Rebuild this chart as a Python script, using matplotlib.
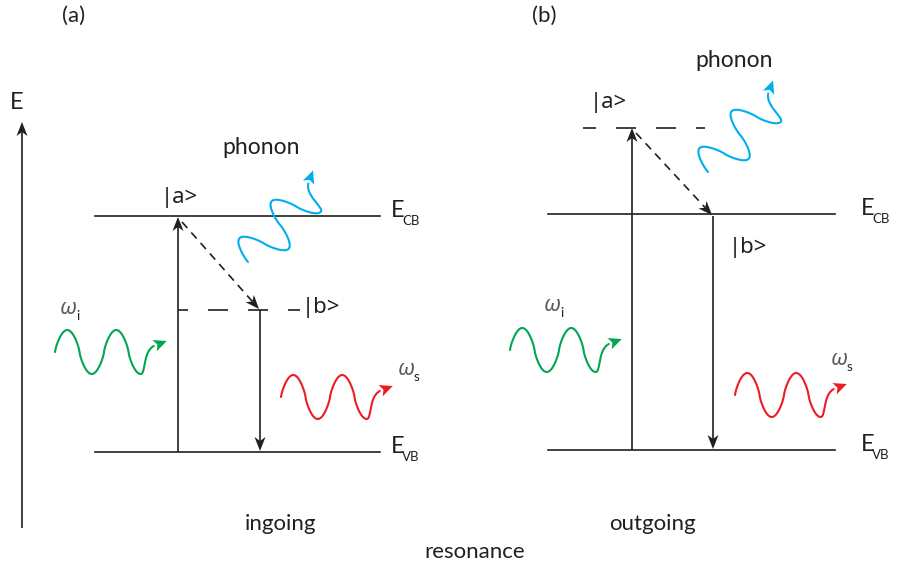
import numpy as np
import matplotlib.pyplot as plt

plt.rcParams['font.family'] = ['Lato', 'DejaVu Sans']
plt.rcParams['lines.scale_dashes'] = False

INK = '#231f20'
GREY = '#58595b'
GREEN = '#00a651'
RED = '#ed1c24'
BLUE = '#00aeef'

# two resonance cases: (a) ingoing, (b) outgoing
panel_names = ['(a)', '(b)']
panel_titles = ['ingoing', 'outgoing']
panel_name_x = [62, 532]
panel_title_x = [281, 652]

# band edges
band_x0 = [95, 548]
band_x1 = [380, 835]
cb_y = [216, 214]
vb_y = [452, 450]
band_label_x = [391, 861]

# dashed intermediate level
virt_y = [310, 128]
virt_x0 = [178, 583]
virt_x1 = [300, 705]
virt_offset = [7.2, 5.0]

# absorption (up) and emission (down) arrows
up_x = [178, 632]
up_top = [217, 128]
down_x = [260, 713]
down_top = [310, 216]
down_bottom = [451, 449]

# state labels: x, baseline
state_a_xy = [(161, 203), (590, 108)]
state_b_xy = [(302, 313), (729, 253)]

# photons and phonons, origin of each wavy arrow
incident_xy = [(55, 352), (510, 350)]
scattered_xy = [(281, 397), (735, 395)]
phonon_xy = [(248, 262), (708, 172)]
phonon_angle = 49
omega_i_xy = [(60, 314), (544, 311)]
omega_s_xy = [(398, 375), (831, 365)]
phonon_label_xy = [(261, 154), (734, 67)]

fig = plt.figure(figsize=(9.04, 5.72), dpi=100)
ax = fig.add_axes([0, 0, 1, 1])
ax.set_xlim(0, 904)
ax.set_ylim(572, 0)
ax.axis('off')


def head(tip, d, color=INK, length=14, width=11, notch=4):
    tip = np.asarray(tip, float)
    d = np.asarray(d, float)
    d = d / np.hypot(*d)
    n = np.array([-d[1], d[0]])
    base = tip - d * length
    pts = np.array([tip, base + n * width / 2, base + d * notch, base - n * width / 2])
    ax.fill(pts[:, 0], pts[:, 1], color=color, lw=0, zorder=4)
    return base + d * notch


def arrow(x0, y0, x1, y1, ls='-'):
    end = head((x1, y1), (x1 - x0, y1 - y0))
    ax.plot([x0, end[0]], [y0, end[1]], color=INK, lw=1.2, ls=ls,
            solid_capstyle='butt', dash_capstyle='butt')


def wave(origin, color, angle=0.0):
    P, A = 49, 22
    s = np.linspace(0, 1.75 * P, 300)
    sn = np.sin(2 * np.pi * s / P)
    w = A * np.sign(sn) * np.abs(sn) ** 0.75   # rounder crests
    # little hook after the last trough
    t = np.linspace(0, 1, 60)[:, None]
    b = np.array([[0, 0], [5, 0], [2, 22], [13, 28]], float)
    curl = ((1 - t) ** 3 * b[0] + 3 * (1 - t) ** 2 * t * b[1]
            + 3 * (1 - t) * t ** 2 * b[2] + t ** 3 * b[3])
    s = np.concatenate([s, 1.75 * P + curl[:, 0]])
    w = np.concatenate([w, -A + curl[:, 1]])
    s_tip, w_tip = 1.75 * P + 26, -A + 33
    a = np.radians(angle)
    ox, oy = origin

    def to_px(ss, ww):
        return (ox + ss * np.cos(a) - ww * np.sin(a),
                oy - ss * np.sin(a) - ww * np.cos(a))

    X, Y = to_px(s, w)
    tx, ty = to_px(s_tip, w_tip)
    ax.plot(X, Y, color=color, lw=1.5, solid_capstyle='round')
    head((tx, ty), (tx - X[-1], ty - Y[-1]), color=color, length=13, width=12, notch=3)


def band_label(x, y, sub):
    ax.text(x, y, 'E', fontsize=17, color=INK, ha='left', va='baseline')
    ax.text(x + 11, y + 8, sub, fontsize=9.5, color=INK, ha='left', va='baseline')


def omega(xy, sub):
    x, y = xy
    ax.text(x, y, '\u03c9', fontsize=15.5, color=GREY, style='italic',
            family=['Noto Sans', 'DejaVu Sans'], ha='left', va='baseline')
    ax.text(x + 16, y + 6, sub, fontsize=9.5, color=INK, ha='left', va='baseline')


def state(xy, name):
    ax.text(*xy, '|' + name + '>', fontsize=16, color=INK, ha='left',
            va='baseline', family=['Noto Sans', 'DejaVu Sans'])


# energy axis
arrow(22, 528, 22, 122)
ax.text(17, 109, 'E', fontsize=17, color=INK, ha='center', va='baseline')

for k in range(2):
    ax.text(panel_name_x[k], 22, panel_names[k], fontsize=16, color=INK,
            ha='left', va='baseline')
    ax.text(panel_title_x[k], 530, panel_titles[k], fontsize=16, color=INK,
            ha='center', va='baseline')

    for y, sub in [(cb_y[k], 'CB'), (vb_y[k], 'VB')]:
        ax.plot([band_x0[k], band_x1[k]], [y, y], color=INK, lw=1.2)
        band_label(band_label_x[k], y + 1, sub)

    ax.plot([virt_x0[k], virt_x1[k]], [virt_y[k], virt_y[k]], color=INK, lw=1.2,
            ls=(virt_offset[k], (14.4, 14.4)), dash_capstyle='butt')

    arrow(up_x[k], vb_y[k], up_x[k], up_top[k])
    arrow(down_x[k], down_top[k], down_x[k], down_bottom[k])
    arrow(up_x[k] + 4, up_top[k] + 5, down_x[k] - 1, down_top[k] - 1,
          ls=(0, (5.8, 4.3)))

    state(state_a_xy[k], 'a')
    state(state_b_xy[k], 'b')
    ax.text(*phonon_label_xy[k], 'phonon', fontsize=16.5, color=INK,
            ha='center', va='baseline')

    wave(incident_xy[k], GREEN)
    wave(scattered_xy[k], RED)
    wave(phonon_xy[k], BLUE, phonon_angle)
    omega(omega_i_xy[k], 'i')
    omega(omega_s_xy[k], 's')

ax.text(475, 558, 'resonance', fontsize=16, color=INK, ha='center', va='baseline')

fig.savefig('out.png', dpi=100)
